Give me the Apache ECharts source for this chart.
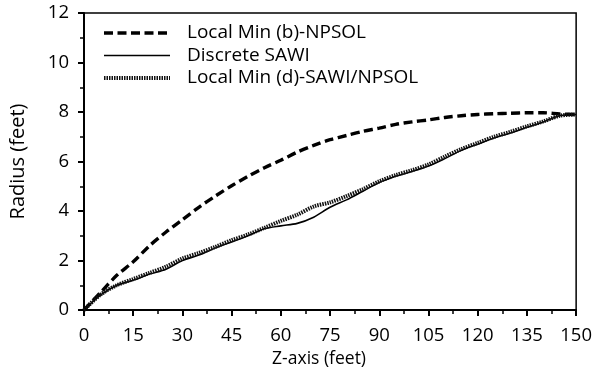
<!DOCTYPE html>
<html><head><meta charset="utf-8">
<script src="https://cdn.jsdelivr.net/npm/echarts@6/dist/echarts.min.js"></script>
<style>html,body{margin:0;padding:0;background:#fff}#c{width:595px;height:373px}</style>
</head><body><div id="c"></div>
<script>
const zFeet = [0,5,10,15,20,25,30,35,40,45,50,55,60,65,70,75,80,85,90,95,100,105,110,115,120,125,130,135,140,145,150];
const localMinB = [0,0.7,1.4,1.95,2.6,3.15,3.65,4.15,4.6,5.02,5.4,5.75,6.05,6.38,6.65,6.88,7.05,7.22,7.35,7.5,7.6,7.68,7.78,7.85,7.9,7.93,7.95,7.97,7.97,7.92,7.9];
const discreteSAWI = [0,0.6,1.0,1.2,1.45,1.65,2.0,2.22,2.5,2.75,3.0,3.28,3.4,3.5,3.75,4.15,4.45,4.8,5.15,5.4,5.6,5.82,6.12,6.45,6.7,6.95,7.15,7.38,7.6,7.85,7.9];
const localMinD = [0,0.62,1.0,1.25,1.5,1.75,2.08,2.3,2.55,2.82,3.05,3.32,3.6,3.85,4.18,4.35,4.6,4.88,5.2,5.45,5.65,5.88,6.2,6.5,6.75,7.0,7.2,7.42,7.62,7.85,7.9];
const seriesNames = ['Local Min (b)-NPSOL','Discrete SAWI','Local Min (d)-SAWI/NPSOL'];
const xTicks = [0,15,30,45,60,75,90,105,120,135,150];
const yTicks = [0,2,4,6,8,10,12];

const pairs = ys => zFeet.map((z,i)=>[z, ys[i]]);
const FONT = 'Open Sans';
const chart = echarts.init(document.getElementById('c'), null, {renderer:'canvas'});
chart.setOption({
  animation:false,
  backgroundColor:'#fff',
  textStyle:{fontFamily:FONT,color:'#000'},
  grid:{left:80,right:17,top:13,bottom:63,show:true,borderColor:'#000',borderWidth:1.5,backgroundColor:'transparent'},
  legend:{
    orient:'vertical',left:97,top:18,itemWidth:66,itemHeight:14,itemGap:2.5,
    itemStyle:{opacity:0},
    lineStyle:{width:'inherit'},
    textStyle:{fontFamily:FONT,fontSize:19,color:'#000',lineHeight:20,padding:[0,0,0,12]},
    data:seriesNames
  },
  xAxis:{
    type:'value',min:xTicks[0],max:xTicks[xTicks.length-1],interval:15,
    name:'Z-axis (feet)',nameLocation:'middle',nameGap:39,
    nameTextStyle:{fontFamily:FONT,fontSize:17.5,color:'#000',padding:[0,22,0,0]},
    axisLine:{show:true,onZero:false,lineStyle:{color:'#000',width:2}},
    axisTick:{show:true,inside:false,length:6,lineStyle:{color:'#000',width:2}},
    minorTick:{show:true,splitNumber:2,length:4,lineStyle:{color:'#000',width:1.5}},
    axisLabel:{fontFamily:FONT,fontSize:18.5,color:'#000',margin:16},
    splitLine:{show:false}
  },
  yAxis:{
    type:'value',min:yTicks[0],max:yTicks[yTicks.length-1],interval:2,
    name:'Radius (feet)',nameLocation:'middle',nameGap:56,
    nameTextStyle:{fontFamily:FONT,fontSize:20,color:'#000'},
    axisLine:{show:true,onZero:false,lineStyle:{color:'#000',width:2}},
    axisTick:{show:true,inside:false,length:6,lineStyle:{color:'#000',width:2}},
    minorTick:{show:true,splitNumber:2,length:4,lineStyle:{color:'#000',width:1.5}},
    axisLabel:{fontFamily:FONT,fontSize:18.5,color:'#000',margin:15},
    splitLine:{show:false}
  },
  series:[
    {name:seriesNames[0],type:'line',data:pairs(localMinB),symbol:'none',smooth:0.3,
     lineStyle:{color:'#000',width:3.4,type:[9,4.5]},itemStyle:{color:'#000'}},
    {name:seriesNames[1],type:'line',data:pairs(discreteSAWI),symbol:'none',smooth:0.3,
     lineStyle:{color:'#000',width:1.6,type:'solid'},itemStyle:{color:'#000'}},
    {name:seriesNames[2],type:'line',data:pairs(localMinD),symbol:'none',smooth:0.3,
     lineStyle:{color:'#111',width:4,type:[1.5,1]},itemStyle:{color:'#111'}}
  ]
});
</script></body></html>
